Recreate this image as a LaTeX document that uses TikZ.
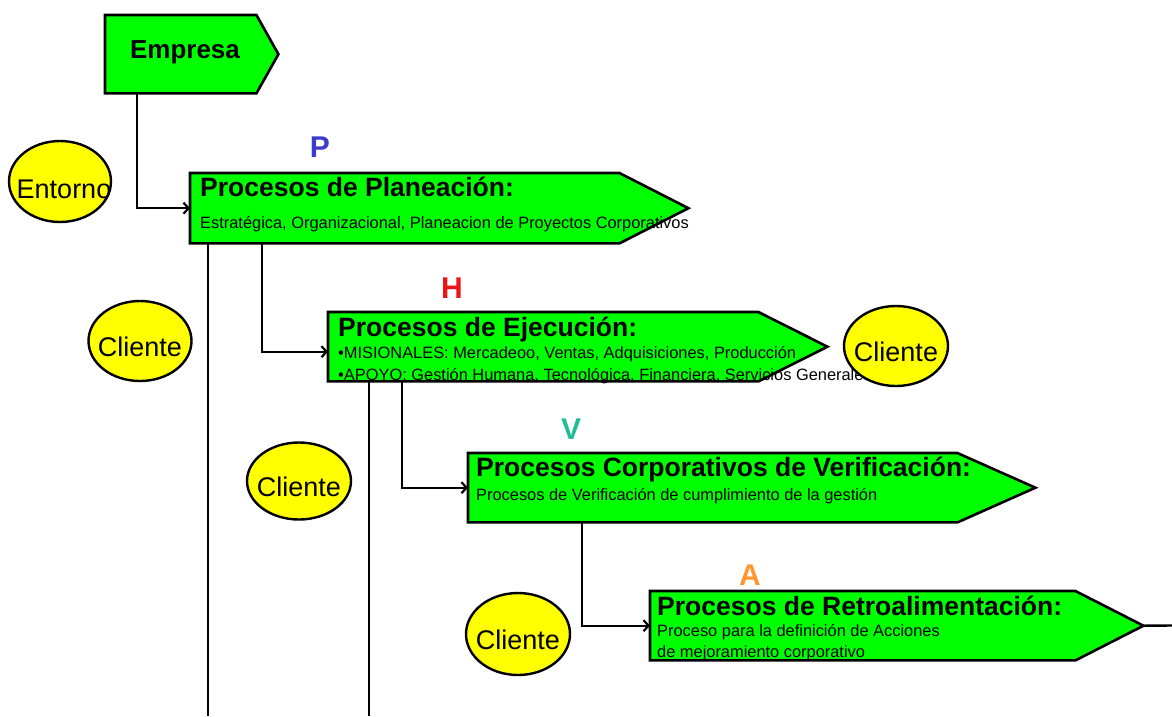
\documentclass[tikz,border=0pt]{standalone}
\usepackage{fontspec}
\setmainfont{Liberation Sans}
\usetikzlibrary{arrows.meta,shapes.geometric,calc}
\definecolor{boxgreen}{RGB}{0,255,0}
\definecolor{cliyellow}{RGB}{255,255,0}
\definecolor{pblue}{RGB}{60,60,204}
\definecolor{hred}{RGB}{238,20,20}
\definecolor{vteal}{RGB}{30,190,150}
\definecolor{aorange}{RGB}{255,150,50}
\newcommand\arrowpath[2]{(#1.north west) -- (#1.north east) -- ([xshift=#2]#1.east) -- (#1.south east) -- (#1.south west) -- cycle}
\tikzset{
  rectpart/.style={draw=none, inner sep=0pt, anchor=north west},
  boxfill/.style={fill=boxgreen},
  boxline/.style={draw=black, line width=2.6pt, line join=miter},
  cli/.style={ellipse, draw=black, line width=2.4pt, fill=cliyellow, inner sep=0pt},
  clitext/.style={font=\fontsize{27}{30}\selectfont, yshift=-6pt},
  conn/.style={draw=black, line width=2.4pt, -{Straight Barb[length=5pt,width=11pt,line width=2.2pt]}},
  plainline/.style={draw=black, line width=2.4pt},
  title/.style={anchor=base west, inner sep=0pt, font=\fontsize{26.5}{30}\selectfont\bfseries},
  sub/.style={anchor=base west, inner sep=0pt, font=\fontsize{16.4}{20}\selectfont},
  letter/.style={anchor=base, inner sep=0pt, font=\fontsize{30}{34}\selectfont\bfseries}
}
\begin{document}
\begin{tikzpicture}[x=1pt,y=-1pt]
\useasboundingbox (0,0) rectangle (1172,716);
\fill[white] (0,0) rectangle (1172,716);

% rectangle parts of the arrow shapes
\node[rectpart, minimum width=151pt, minimum height=78pt] (emp) at (105,15) {};
\node[rectpart, minimum width=429pt, minimum height=70pt] (plan) at (190,173) {};
\node[rectpart, minimum width=430pt, minimum height=69pt] (ejec) at (328,312) {};
\node[rectpart, minimum width=489pt, minimum height=69pt] (verif) at (468,453) {};
\node[rectpart, minimum width=425pt, minimum height=69pt] (retro) at (650,591) {};

% bottom ends of the long lines
\coordinate (planbot) at (208,716);
\coordinate (ejecbot) at (369,716);

% connectors
\draw[conn] ([xshift=32pt]emp.south west) |- (plan.west);
\draw[plainline] ([xshift=18pt]plan.south west) -- (planbot);
\draw[conn] ([xshift=72pt]plan.south west) |- ([yshift=-5pt]ejec.west);
\draw[plainline] ([xshift=41pt]ejec.south west) -- (ejecbot);
\draw[conn] ([xshift=74pt]ejec.south west) |- (verif.west);
\draw[conn] ([xshift=114pt]verif.south west) |- (retro.west);

% fills
\fill[boxfill] \arrowpath{emp}{22pt};
\fill[boxfill] \arrowpath{plan}{69pt};
\fill[boxfill] \arrowpath{ejec}{69pt};
\fill[boxfill] \arrowpath{verif}{78pt};
\fill[boxfill] \arrowpath{retro}{68pt};

% texts
\node[anchor=base, inner sep=0pt, font=\fontsize{26}{30}\selectfont\bfseries] (empt) at (185,58) {Empresa};

\node[title] (plant) at (200,196) {Procesos de Planeación:};
\node[sub] (plans) at (200,228) {Estratégica, Organizacional, Planeacion de Proyectos Corporativos};

\node[title] (eject) at (338,336) {Procesos de Ejecución:};
\node[sub] (ejecs1) at (338,358) {•MISIONALES: Mercadeoo, Ventas, Adquisiciones, Producción};
\node[sub] (ejecs2) at (338,380) {•APOYO: Gestión Humana, Tecnológica, Financiera, Servicios Generales};

\node[title] (verift) at (476,476) {Procesos Corporativos de Verificación:};
\node[sub] (verifs) at (476,500) {Procesos de Verificación de cumplimiento de la gestión};

\node[title] (retrot) at (657,615) {Procesos de Retroalimentación:};
\node[sub] (retros1) at (657,636) {Proceso para la definición de Acciones};
\node[sub] (retros2) at (657,657) {de mejoramiento corporativo};

% outlines on top
\draw[boxline] \arrowpath{emp}{22pt};
\draw[boxline] \arrowpath{plan}{69pt};
\draw[boxline] \arrowpath{ejec}{69pt};
\draw[boxline] \arrowpath{verif}{78pt};
\draw[boxline] \arrowpath{retro}{68pt};

\coordinate (retrotip) at ([xshift=68pt]retro.east);
\coordinate (rend) at (1172,625.5);
\draw[plainline] (retrotip) -- (rend);

% PHVA letters
\node[letter, text=pblue] (lp) at (320,157) {P};
\node[letter, text=hred] (lh) at (452,298) {H};
\node[letter, text=vteal] (lv) at (571,439) {V};
\node[letter, text=aorange] (la) at (750,585) {A};

% ellipses
\node[cli, minimum width=102pt, minimum height=81pt, label={[clitext, xshift=4pt, yshift=-2pt]center:Entorno}] (ent) at (60,181.5) {};
\node[cli, minimum width=103pt, minimum height=80pt, label={[clitext]center:Cliente}] (cli1) at (140,341) {};
\node[cli, minimum width=104pt, minimum height=77pt, label={[clitext]center:Cliente}] (cli2) at (299,481) {};
\node[cli, minimum width=104pt, minimum height=80pt, label={[clitext]center:Cliente}] (cli3) at (896,346) {};
\node[cli, minimum width=104pt, minimum height=82pt, label={[clitext]center:Cliente}] (cli4) at (518,634) {};
\end{tikzpicture}
\end{document}
